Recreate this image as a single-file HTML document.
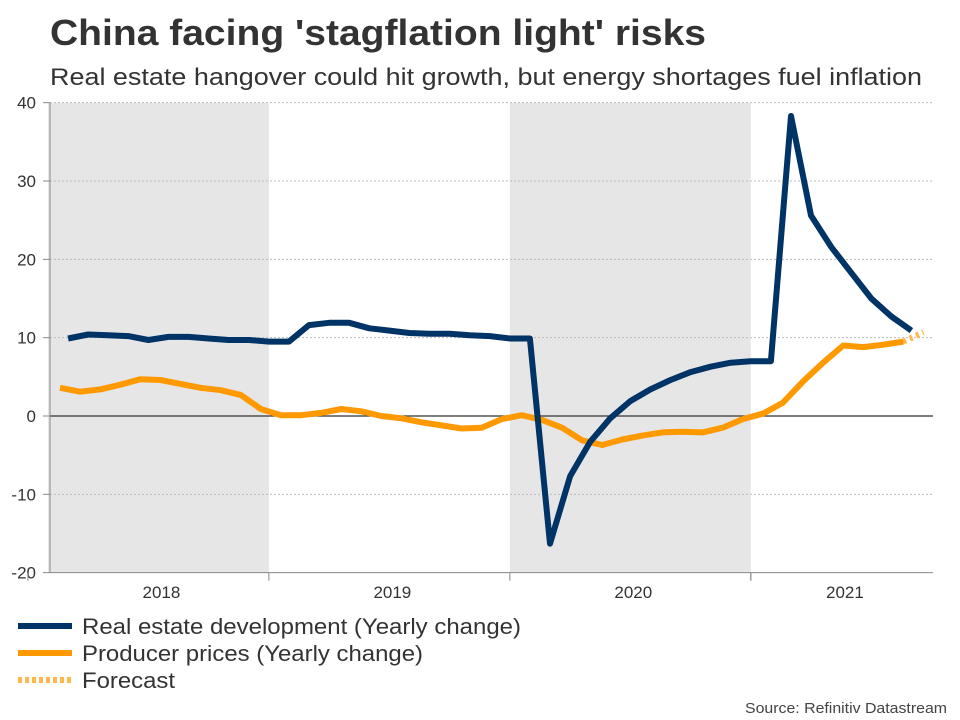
<!DOCTYPE html>
<html><head><meta charset="utf-8"><style>
body{margin:0;background:#fff;font-family:"Liberation Sans",Arial,sans-serif;}
#wrap{position:relative;width:960px;height:720px;overflow:hidden}
</style></head><body><div id="wrap">
<svg id="c" width="960" height="720"></svg>
</div>
<script>
const yTicks=[40,30,20,10,0,-10,-20];
const years=["2018","2019","2020","2021"];
const realEstate=[9.9,10.4,10.3,10.2,9.7,10.1,10.1,9.9,9.7,9.7,9.5,9.5,11.6,11.9,11.9,11.2,10.9,10.6,10.5,10.5,10.3,10.2,9.9,9.9,-16.3,-7.7,-3.3,-0.3,1.9,3.4,4.6,5.6,6.3,6.8,7.0,7.0,38.3,25.6,21.6,18.3,15.0,12.7,10.9];
const realEstateStart=1;
const producer=[3.6,3.1,3.4,4.0,4.7,4.6,4.1,3.6,3.3,2.7,0.9,0.1,0.1,0.4,0.9,0.6,0,-0.3,-0.8,-1.2,-1.6,-1.5,-0.4,0.1,-0.5,-1.5,-3.1,-3.7,-3.0,-2.5,-2.1,-2.0,-2.1,-1.5,-0.4,0.3,1.7,4.4,6.8,9.0,8.8,9.1,9.5];
const producerStart=0.6;
const forecast=[9.5,10.7];
const NS="http://www.w3.org/2000/svg";
const svg=document.getElementById('c');
const X0=48,MW=20.08;
function x(m){return X0+m*MW;}
function y(v){return 416-v*7.833;}
function el(t,a,txt){const e=document.createElementNS(NS,t);for(const k in a)e.setAttribute(k,a[k]);if(txt!==undefined)e.textContent=txt;svg.appendChild(e);return e;}
let e;
e=el('text',{x:50,y:45,'font-size':36,'font-weight':'bold',fill:'#333',textLength:656,lengthAdjust:'spacingAndGlyphs'},"China facing 'stagflation light' risks");

e=el('text',{x:50,y:85,'font-size':24,fill:'#333',textLength:872,lengthAdjust:'spacingAndGlyphs'},"Real estate hangover could hit growth, but energy shortages fuel inflation");

[[0,11],[23,35]].forEach((p,i)=>{e=el('rect',{x:x(p[0]),y:y(40),width:x(p[1])-x(p[0]),height:y(-20)-y(40),fill:'#e6e6e6'});
});
yTicks.forEach(v=>{
 if(v!==0&&v!==-20){e=el('line',{x1:50,x2:933,y1:y(v),y2:y(v),stroke:'#bbb','stroke-dasharray':'2,2'});
 }
 e=el('line',{x1:43,x2:50,y1:y(v),y2:y(v),stroke:'#888'});
 e=el('text',{x:36,y:y(v)+6,'text-anchor':'end','font-size':17,fill:'#333'},String(v));
 
});
e=el('line',{x1:50,x2:933,y1:y(0),y2:y(0),stroke:'#333','stroke-width':1.2});

e=el('line',{x1:50,x2:50,y1:y(40),y2:y(-20),stroke:'#888'});

e=el('line',{x1:50,x2:933,y1:y(-20),y2:y(-20),stroke:'#888'});

years.forEach((yr,i)=>{
 const b=Math.min(x(i*12+11),933);
 e=el('line',{x1:x(i*12-1),x2:x(i*12-1),y1:y(-20),y2:y(-20)+8,stroke:'#888'});
 e=el('text',{x:(Math.max(x(i*12-1),48)+b)/2+3,y:598,'text-anchor':'middle','font-size':17,fill:'#333'},yr);
 
});
e=el('line',{x1:x(35),x2:x(35),y1:y(-20),y2:y(-20)+8,stroke:'#888'});
function line(vals,start,color,name,dash){
 const d=vals.map((v,i)=>(i?'L':'M')+x(start+i).toFixed(1)+','+y(v).toFixed(1)).join(' ');
 const p=el('path',{d:d,fill:'none',stroke:color,'stroke-width':6,'stroke-linejoin':'round'});
 if(dash)p.setAttribute('stroke-dasharray',dash);
 
}
line(producer,producerStart,'#ff9900','producer-prices-line');
line(forecast,producerStart+producer.length-1,'#ffb84d','forecast-line','3,4');
line(realEstate,realEstateStart,'#003366','real-estate-line');
const leg=[["Real estate development (Yearly change)","#003366",null,439],["Producer prices (Yearly change)","#ff9900",null,341],["Forecast","#ffb84d","4,3",93]];
leg.forEach((l,i)=>{
 const yy=626+i*27;
 const ln=el('line',{x1:18,x2:72,y1:yy,y2:yy,stroke:l[1],'stroke-width':6});
 if(l[2])ln.setAttribute('stroke-dasharray',l[2]);
 const t=el('text',{x:82,y:yy+8,'font-size':22,fill:'#333',textLength:l[3],lengthAdjust:'spacingAndGlyphs'},l[0]);
 
});
e=el('text',{x:947,y:713,'text-anchor':'end','font-size':15,fill:'#444',textLength:202,lengthAdjust:'spacingAndGlyphs'},"Source: Refinitiv Datastream");

</script></body></html>
